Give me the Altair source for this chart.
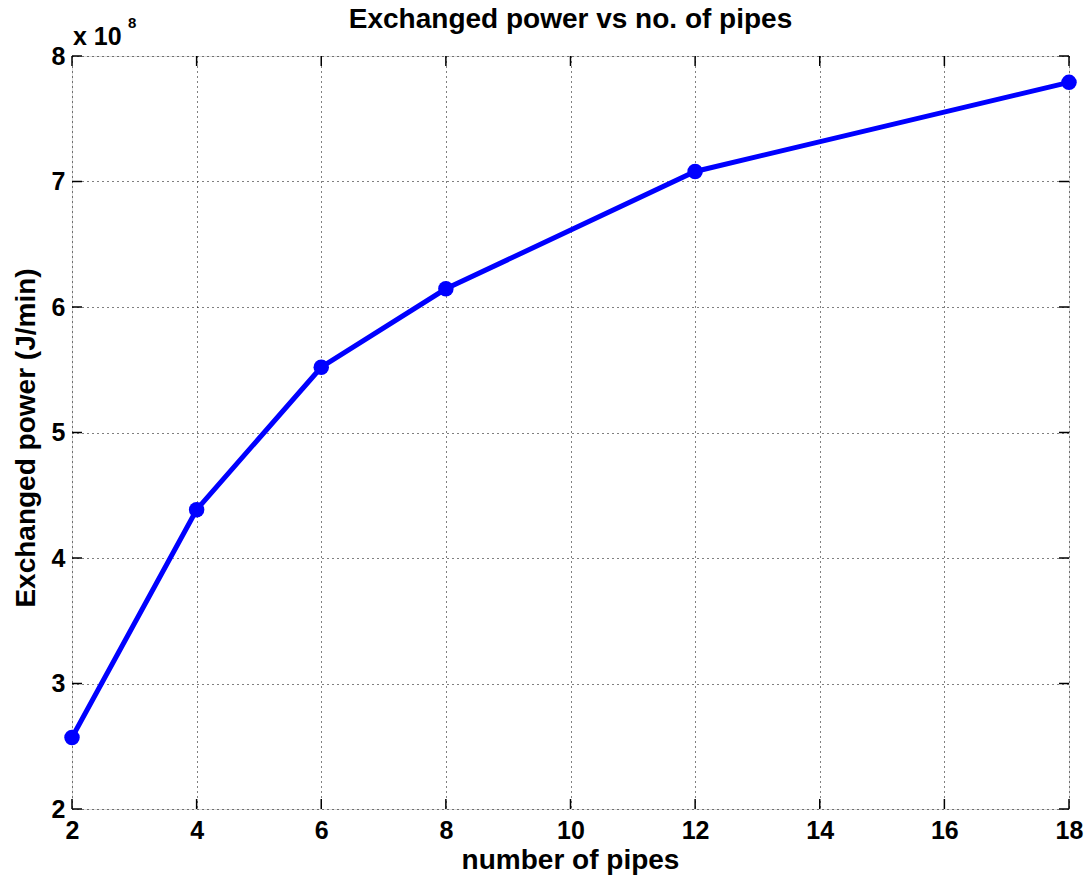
import altair as alt
import pandas as pd

pipes = [2, 4, 6, 8, 12, 18]
power = [2.57e8, 4.385e8, 5.52e8, 6.145e8, 7.08e8, 7.79e8]
x_ticks = [2, 4, 6, 8, 10, 12, 14, 16, 18]
y_ticks = [2e8, 3e8, 4e8, 5e8, 6e8, 7e8, 8e8]

W, H = 997, 753
FONT = "Liberation Sans"
TICKFS = 25
TITLEFS = 28

df = pd.DataFrame({"pipes": pipes, "power": power})
xs = alt.Scale(domain=[2, 18], nice=False)
ys = alt.Scale(domain=[2e8, 8e8], nice=False)

base = alt.Chart(df)

common_axis = dict(grid=True, gridColor="black", gridDash=[1, 4], gridOpacity=1, gridWidth=1,
                   tickSize=0, domain=False, labelFlush=False, title=None,
                   labelFont=FONT, labelFontSize=TICKFS, labelFontWeight="bold",
                   labelColor="black")

line = base.mark_line(color="#0000ff", strokeWidth=5).encode(
    x=alt.X("pipes:Q", scale=xs,
            axis=alt.Axis(values=x_ticks, format="d", labelPadding=9, **common_axis)),
    y=alt.Y("power:Q", scale=ys,
            axis=alt.Axis(values=y_ticks, labelExpr="format(datum.value/1e8, 'd')",
                          labelPadding=7, **common_axis)),
)
pts = base.mark_circle(color="#0000ff", size=240, opacity=1).encode(
    x=alt.X("pipes:Q", scale=xs), y=alt.Y("power:Q", scale=ys))

xt = pd.DataFrame({"t": x_ticks})
yt = pd.DataFrame({"t": y_ticks})
tick_b = alt.Chart(xt).mark_rule(color="black", strokeWidth=1.5).encode(
    x=alt.X("t:Q", scale=xs), y=alt.value(H), y2=alt.value(H - 10))
tick_t = alt.Chart(xt).mark_rule(color="black", strokeWidth=1.5).encode(
    x=alt.X("t:Q", scale=xs), y=alt.value(0), y2=alt.value(10))
tick_l = alt.Chart(yt).mark_rule(color="black", strokeWidth=1.5).encode(
    y=alt.Y("t:Q", scale=ys), x=alt.value(0), x2=alt.value(10))
tick_r = alt.Chart(yt).mark_rule(color="black", strokeWidth=1.5).encode(
    y=alt.Y("t:Q", scale=ys), x=alt.value(W), x2=alt.value(W - 10))


def label(txt, x, y, size, bold=True, angle=0, baseline="alphabetic", align="center"):
    kw = dict(font=FONT, fontSize=size, align=align, baseline=baseline, color="black",
              fontWeight="bold" if bold else "normal")
    if angle:
        kw["angle"] = angle
    return alt.Chart(pd.DataFrame({"s": [txt]})).mark_text(**kw).encode(
        text="s:N", x=alt.value(x), y=alt.value(y))


title = label("Exchanged power vs no. of pipes", W / 2, -28, TITLEFS)
xtitle = label("number of pipes", W / 2, H + 60, TITLEFS)
ytitle = label("Exchanged power (J/min)", -45, 382, TITLEFS, angle=270, baseline="middle")
mult = label("x 10", 1, -11, 25, align="left")
sup = label("8", 56, -28, 15, align="left")

chart = alt.layer(tick_b, tick_t, tick_l, tick_r, line, pts,
                  title, xtitle, ytitle, mult, sup).properties(
    width=W, height=H,
    autosize=alt.AutoSizeParams(type="none"),
    padding={"left": 72, "top": 56, "right": 21, "bottom": 70},
).configure_view(stroke="black", strokeWidth=1.5).configure(background="white")

chart.save("out.html", embed_options={"renderer": "svg", "actions": False})
